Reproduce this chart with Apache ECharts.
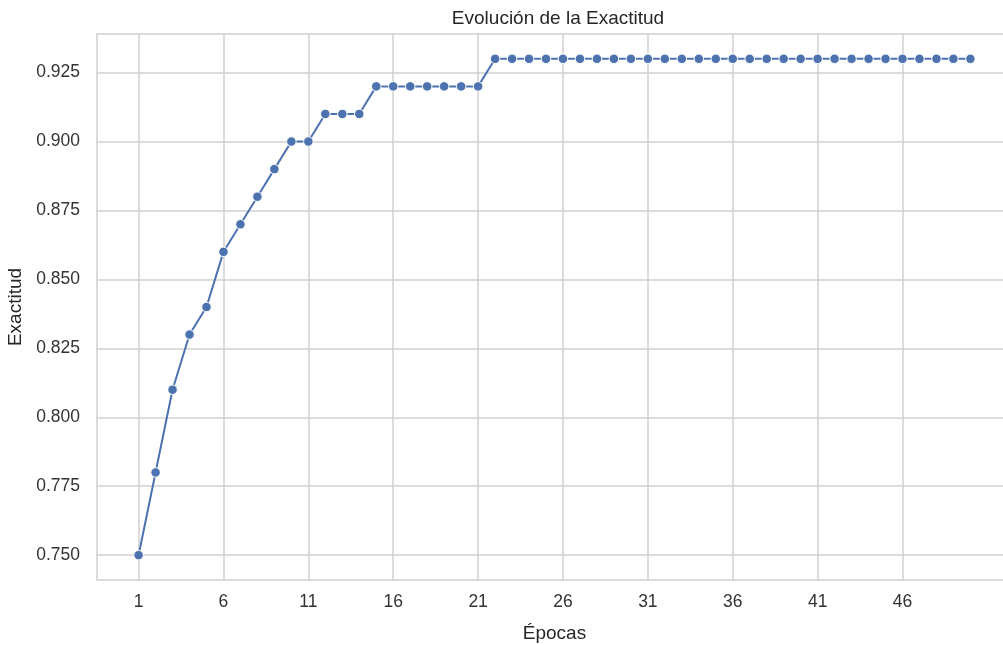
<!DOCTYPE html>
<html>
<head>
<meta charset="utf-8">
<script src="https://cdn.jsdelivr.net/npm/echarts@6/dist/echarts.min.js"></script>
<style>html,body{margin:0;padding:0;background:#fff;}#c{width:1003px;height:645px;}</style>
</head>
<body>
<div id="c"></div>
<script>
const epochs = [1,2,3,4,5,6,7,8,9,10,11,12,13,14,15,16,17,18,19,20,21,22,23,24,25,26,27,28,29,30,31,32,33,34,35,36,37,38,39,40,41,42,43,44,45,46,47,48,49,50];
const accuracy = [0.75,0.78,0.81,0.83,0.84,0.86,0.87,0.88,0.89,0.90,0.90,0.91,0.91,0.91,0.92,0.92,0.92,0.92,0.92,0.92,0.92,
  0.93,0.93,0.93,0.93,0.93,0.93,0.93,0.93,0.93,0.93,0.93,0.93,0.93,0.93,0.93,0.93,0.93,0.93,0.93,0.93,0.93,0.93,0.93,0.93,0.93,0.93,0.93,0.93,0.93];
const xTicks = [1,6,11,16,21,26,31,36,41,46];
const yTicks = [0.75,0.775,0.8,0.825,0.85,0.875,0.9,0.925];
const titleText = 'Evolución de la Exactitud';
const xName = 'Épocas';
const yName = 'Exactitud';

const font = '"Liberation Sans", Arial, sans-serif';
const chart = echarts.init(document.getElementById('c'), null, {renderer: 'canvas'});
chart.setOption({
  animation: false,
  backgroundColor: '#ffffff',
  title: {
    text: titleText, left: 553, top: 4, textAlign: 'center',
    textStyle: {fontFamily: font, fontSize: 19, fontWeight: 'normal', color: '#262626'}
  },
  grid: {
    left: 97, right: -9, top: 34, bottom: 65,
    outerBoundsMode: 'none', containLabel: false,
    show: true, borderColor: '#d0d0d0', borderWidth: 1.5, backgroundColor: 'transparent'
  },
  xAxis: {
    type: 'value', min: -1.45, max: 52.45,
    name: xName, nameLocation: 'middle', nameGap: 44,
    nameTextStyle: {fontFamily: font, fontSize: 19, color: '#262626'},
    axisLine: {show: false},
    axisTick: {show: false, customValues: xTicks},
    axisLabel: {customValues: xTicks, fontFamily: font, fontSize: 17.5, color: '#333333', margin: 13},
    splitLine: {show: true, lineStyle: {color: '#d0d0d0', width: 1.5}}
  },
  yAxis: {
    type: 'value', min: 0.741, max: 0.939,
    name: yName, nameLocation: 'middle', nameGap: 63,
    nameTextStyle: {fontFamily: font, fontSize: 19, color: '#262626'},
    axisLine: {show: false},
    axisTick: {show: false, customValues: yTicks},
    axisLabel: {customValues: yTicks, fontFamily: font, fontSize: 17.5, color: '#333333', margin: 17,
      formatter: v => v.toFixed(3)},
    splitLine: {show: true, lineStyle: {color: '#d0d0d0', width: 1.5}}
  },
  series: [{
    type: 'line',
    data: epochs.map((e, i) => [e, accuracy[i]]),
    symbol: 'circle', symbolSize: 9.5,
    lineStyle: {color: '#4c72b0', width: 2},
    itemStyle: {color: '#4c72b0', borderColor: '#ffffff', borderWidth: 1},
    clip: false
  }]
});
</script>
</body>
</html>
